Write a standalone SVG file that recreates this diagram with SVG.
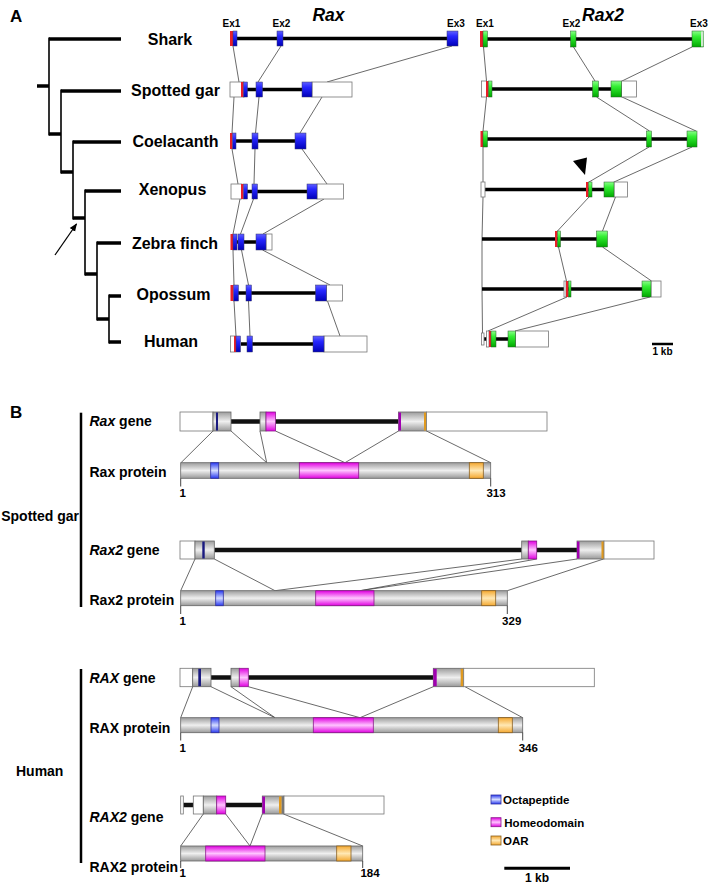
<svg xmlns="http://www.w3.org/2000/svg" width="709" height="884" viewBox="0 0 709 884">
<defs>
<linearGradient id="gB" x1="0" y1="0" x2="0" y2="1"><stop offset="0" stop-color="#6060ff"/><stop offset="0.35" stop-color="#2626ff"/><stop offset="1" stop-color="#0000b8"/></linearGradient>
<linearGradient id="gG" x1="0" y1="0" x2="0" y2="1"><stop offset="0" stop-color="#8aff8a"/><stop offset="0.35" stop-color="#33ee33"/><stop offset="1" stop-color="#00a800"/></linearGradient>
<linearGradient id="gGr" x1="0" y1="0" x2="0" y2="1"><stop offset="0" stop-color="#9c9c9c"/><stop offset="0.5" stop-color="#efefef"/><stop offset="1" stop-color="#999"/></linearGradient>
<linearGradient id="gM" x1="0" y1="0" x2="0" y2="1"><stop offset="0" stop-color="#e000e0"/><stop offset="0.5" stop-color="#ffc4ff"/><stop offset="1" stop-color="#e000e0"/></linearGradient>
<linearGradient id="gO" x1="0" y1="0" x2="0" y2="1"><stop offset="0" stop-color="#2a3af0"/><stop offset="0.5" stop-color="#d4dcff"/><stop offset="1" stop-color="#2a3af0"/></linearGradient>
<linearGradient id="gA" x1="0" y1="0" x2="0" y2="1"><stop offset="0" stop-color="#f4a830"/><stop offset="0.5" stop-color="#ffe8b4"/><stop offset="1" stop-color="#f4a830"/></linearGradient>
<marker id="arr" viewBox="0 0 10 10" refX="9" refY="5" markerWidth="8" markerHeight="8" orient="auto" markerUnits="userSpaceOnUse"><path d="M0,1 L10,5 L0,9 z" fill="#000"/></marker>
</defs>
<style>
text{font-family:"Liberation Sans",Arial,sans-serif;font-weight:bold;fill:#000}
.sp{font-size:16px;text-anchor:middle}
.ex{font-size:10px;text-anchor:middle}
.ttl{font-size:17.5px;font-style:italic;text-anchor:middle}
.pl{font-size:17px}
.bl{font-size:14px}
.num{font-size:11.5px}
.lg{font-size:11.5px}
.th{stroke:#000;stroke-width:3.5;fill:none}
.tv{stroke:#000;stroke-width:1.6;fill:none}
.in{stroke:#000;stroke-width:3.5}
.inb{stroke:#111;stroke-width:4.5}
.c{stroke:#444;stroke-width:0.8;fill:none}
.w{fill:#fff;stroke:#777;stroke-width:0.8}
.b{fill:url(#gB);stroke:#3a3a6a;stroke-width:0.5}
.g{fill:url(#gG);stroke:#2a5a2a;stroke-width:0.5}
.r{fill:#e8202a}
.gr{fill:url(#gGr);stroke:#666;stroke-width:0.8}
.m{fill:url(#gM);stroke:#8a1a8a;stroke-width:0.8}
.o{fill:url(#gO);stroke:#3030a0;stroke-width:0.8}
.a{fill:url(#gA);stroke:#8a6020;stroke-width:0.8}
.nv{fill:#1a1a80}
.mt{fill:#a000b0}
.ot{fill:#e09a20}
.tk{stroke:#333;stroke-width:0.9}
</style>

<text class="pl" x="10" y="22">A</text>
<text class="pl" x="10" y="418">B</text>

<g id="tree">
<line class="th" x1="37" y1="86" x2="49" y2="86"/>
<line class="tv" x1="49" y1="37.5" x2="49" y2="135.5"/>
<line class="th" x1="49" y1="39" x2="121" y2="39"/>
<line class="th" x1="49" y1="134" x2="61" y2="134"/>
<line class="tv" x1="61" y1="89.5" x2="61" y2="173.5"/>
<line class="th" x1="61" y1="91" x2="121" y2="91"/>
<line class="th" x1="61" y1="172" x2="73" y2="172"/>
<line class="tv" x1="73" y1="140.5" x2="73" y2="219.5"/>
<line class="th" x1="73" y1="142" x2="121" y2="142"/>
<line class="th" x1="73" y1="218" x2="85" y2="218"/>
<line class="tv" x1="85" y1="189.5" x2="85" y2="275.5"/>
<line class="th" x1="85" y1="191" x2="121" y2="191"/>
<line class="th" x1="85" y1="274" x2="97" y2="274"/>
<line class="tv" x1="97" y1="241.5" x2="97" y2="320.5"/>
<line class="th" x1="97" y1="243" x2="121" y2="243"/>
<line class="th" x1="97" y1="319" x2="109" y2="319"/>
<line class="tv" x1="109" y1="294.5" x2="109" y2="343.5"/>
<line class="th" x1="109" y1="296" x2="121" y2="296"/>
<line class="th" x1="109" y1="342" x2="121" y2="342"/>
<line x1="55" y1="255" x2="76.5" y2="224" stroke="#000" stroke-width="1.3" marker-end="url(#arr)"/>
</g>

<g id="species-labels">
<text class="sp" x="170" y="45">Shark</text>
<text class="sp" x="175.5" y="96">Spotted gar</text>
<text class="sp" x="175.5" y="147">Coelacanth</text>
<text class="sp" x="172.5" y="195">Xenopus</text>
<text class="sp" x="175" y="249">Zebra finch</text>
<text class="sp" x="173.5" y="300">Opossum</text>
<text class="sp" x="171" y="347">Human</text>
</g>

<g id="titles">
<text class="ttl" x="328.5" y="21">Rax</text>
<text class="ttl" x="603" y="21">Rax2</text>
<text class="ex" x="231.5" y="27">Ex1</text>
<text class="ex" x="281.5" y="27">Ex2</text>
<text class="ex" x="456" y="27">Ex3</text>
<text class="ex" x="485" y="27">Ex1</text>
<text class="ex" x="571.5" y="27">Ex2</text>
<text class="ex" x="699" y="27">Ex3</text>
</g>

<g id="connectors">
<line class="c" x1="233" y1="46" x2="239" y2="82"/>
<line class="c" x1="281" y1="46" x2="258" y2="82"/>
<line class="c" x1="452" y1="46" x2="327" y2="82"/>
<line class="c" x1="234" y1="97" x2="232" y2="133"/>
<line class="c" x1="259" y1="97" x2="255.5" y2="133"/>
<line class="c" x1="322" y1="97" x2="300" y2="133"/>
<line class="c" x1="232" y1="149" x2="238" y2="184"/>
<line class="c" x1="255" y1="149" x2="254" y2="184"/>
<line class="c" x1="302" y1="149" x2="327" y2="184"/>
<line class="c" x1="240" y1="199" x2="233" y2="234"/>
<line class="c" x1="253.5" y1="199" x2="240.5" y2="234"/>
<line class="c" x1="324" y1="199" x2="263" y2="234"/>
<line class="c" x1="233" y1="250" x2="234" y2="285"/>
<line class="c" x1="241.5" y1="250" x2="248.5" y2="285"/>
<line class="c" x1="262.5" y1="250" x2="330" y2="285"/>
<line class="c" x1="234" y1="301" x2="236" y2="336"/>
<line class="c" x1="248.5" y1="301" x2="250" y2="336"/>
<line class="c" x1="327.5" y1="301" x2="340" y2="336"/>
<line class="c" x1="483.5" y1="47" x2="486.5" y2="81"/>
<line class="c" x1="573.5" y1="47" x2="595" y2="81"/>
<line class="c" x1="692" y1="47" x2="622" y2="81"/>
<line class="c" x1="486.5" y1="97" x2="483" y2="131"/>
<line class="c" x1="596.5" y1="97" x2="649.5" y2="131"/>
<line class="c" x1="622" y1="97" x2="696" y2="131"/>
<line class="c" x1="483" y1="147" x2="483" y2="182"/>
<line class="c" x1="649" y1="147" x2="589" y2="182"/>
<line class="c" x1="692" y1="147" x2="614" y2="182"/>
<line class="c" x1="483" y1="197" x2="482" y2="239"/>
<line class="c" x1="589" y1="197" x2="557.5" y2="231"/>
<line class="c" x1="615.5" y1="197" x2="602.5" y2="231"/>
<line class="c" x1="482" y1="239" x2="482" y2="289"/>
<line class="c" x1="558.5" y1="247" x2="566.5" y2="281"/>
<line class="c" x1="602.5" y1="247" x2="651.5" y2="281"/>
<line class="c" x1="482" y1="289" x2="482.5" y2="333"/>
<line class="c" x1="567" y1="297" x2="488" y2="331"/>
<line class="c" x1="650" y1="297" x2="515" y2="331"/>
<line class="c" x1="213" y1="431" x2="181" y2="462.7"/>
<line class="c" x1="231" y1="431" x2="266.7" y2="462.7"/>
<line class="c" x1="260" y1="431" x2="266.7" y2="462.7"/>
<line class="c" x1="275.5" y1="431" x2="345" y2="462.7"/>
<line class="c" x1="398.5" y1="431" x2="345" y2="462.7"/>
<line class="c" x1="426.5" y1="431" x2="490.7" y2="462.7"/>
<line class="c" x1="195" y1="559" x2="180.7" y2="590.7"/>
<line class="c" x1="214.3" y1="559" x2="275" y2="590.7"/>
<line class="c" x1="521.7" y1="559" x2="275" y2="590.7"/>
<line class="c" x1="536.7" y1="559" x2="360" y2="590.7"/>
<line class="c" x1="577" y1="559" x2="360" y2="590.7"/>
<line class="c" x1="603.5" y1="559" x2="507.3" y2="590.7"/>
<line class="c" x1="192.7" y1="686.7" x2="180.7" y2="717.7"/>
<line class="c" x1="211" y1="686.7" x2="275" y2="717.7"/>
<line class="c" x1="231" y1="686.7" x2="275" y2="717.7"/>
<line class="c" x1="248.3" y1="686.7" x2="360" y2="717.7"/>
<line class="c" x1="433.3" y1="686.7" x2="360" y2="717.7"/>
<line class="c" x1="465" y1="686.7" x2="522.7" y2="717.7"/>
<line class="c" x1="203.3" y1="814" x2="180.7" y2="846"/>
<line class="c" x1="225.7" y1="814" x2="250" y2="846"/>
<line class="c" x1="262.3" y1="814" x2="250" y2="846"/>
<line class="c" x1="283.5" y1="814" x2="362.7" y2="846"/>
</g>

<g id="rax-shark">
<line class="in" x1="236" y1="38.5" x2="447" y2="38.5"/>
<rect class="r" x="230" y="31" width="3" height="15"/><rect class="b" x="233" y="31" width="4" height="15"/>
<rect class="b" x="277" y="31" width="6" height="15"/>
<rect class="b" x="447" y="31" width="11" height="15"/>
</g>
<g id="rax-gar">
<line class="in" x1="247" y1="89.5" x2="302" y2="89.5"/>
<rect class="w" x="230" y="82" width="14" height="15"/>
<rect class="r" x="241" y="82" width="2.5" height="15"/><rect class="b" x="243.5" y="82" width="4" height="15"/>
<rect class="b" x="256" y="82" width="6.5" height="15"/>
<rect class="w" x="312" y="82" width="40" height="15"/>
<rect class="b" x="302" y="82" width="10" height="15"/>
</g>
<g id="rax-coelacanth">
<line class="in" x1="236" y1="141" x2="295" y2="141"/>
<rect class="r" x="230" y="133" width="2.5" height="16"/><rect class="b" x="232.5" y="133" width="3.5" height="16"/>
<rect class="b" x="252" y="133" width="6" height="16"/>
<rect class="b" x="295" y="133" width="11" height="16"/>
</g>
<g id="rax-xenopus">
<line class="in" x1="247" y1="191.5" x2="307" y2="191.5"/>
<rect class="w" x="231" y="184" width="11" height="15"/>
<rect class="r" x="241" y="184" width="2.5" height="15"/><rect class="b" x="243.5" y="184" width="4" height="15"/>
<rect class="b" x="252" y="184" width="5.5" height="15"/>
<rect class="w" x="317" y="184" width="26.5" height="15"/>
<rect class="b" x="307" y="184" width="10" height="15"/>
</g>
<g id="rax-zebrafinch">
<line class="in" x1="237" y1="242" x2="256" y2="242"/>
<rect class="r" x="230.5" y="234" width="2.5" height="16"/><rect class="b" x="233" y="234" width="4" height="16"/>
<rect class="b" x="238" y="234" width="6" height="16"/>
<rect class="w" x="266" y="234" width="6" height="16"/>
<rect class="b" x="256" y="234" width="10" height="16"/>
</g>
<g id="rax-opossum">
<line class="in" x1="238" y1="293" x2="316" y2="293"/>
<rect class="r" x="230.5" y="285" width="3" height="16"/><rect class="b" x="233.5" y="285" width="5" height="16"/>
<rect class="b" x="246" y="285" width="5.5" height="16"/>
<rect class="w" x="326.5" y="285" width="16" height="16"/>
<rect class="b" x="315.5" y="285" width="11" height="16"/>
</g>
<g id="rax-human">
<line class="in" x1="241" y1="344" x2="313" y2="344"/>
<rect class="w" x="230.5" y="336" width="5" height="16"/>
<rect class="r" x="234" y="336" width="2" height="16"/><rect class="b" x="236" y="336" width="4.5" height="16"/>
<rect class="b" x="247" y="336" width="5.5" height="16"/>
<rect class="w" x="324" y="336" width="43" height="16"/>
<rect class="b" x="313" y="336" width="11" height="16"/>
</g>

<g id="rax2-shark">
<line class="in" x1="487" y1="39" x2="692" y2="39"/>
<rect class="r" x="480" y="31" width="3" height="16"/><rect class="g" x="483" y="31" width="4.5" height="16"/>
<rect class="g" x="570.5" y="31" width="5.5" height="16"/>
<rect class="g" x="692" y="31" width="11.5" height="16"/>
<rect x="701" y="31.5" width="2.3" height="15" fill="#cfe9cf"/>
</g>
<g id="rax2-gar">
<line class="in" x1="492" y1="89" x2="611" y2="89"/>
<rect class="w" x="481.5" y="81" width="5" height="16"/>
<rect class="r" x="486" y="81" width="2.5" height="16"/><rect class="g" x="488.5" y="81" width="3.5" height="16"/>
<rect class="g" x="592.5" y="81" width="6" height="16"/>
<rect class="w" x="621.5" y="81" width="15" height="16"/>
<rect class="g" x="611" y="81" width="10.5" height="16"/>
</g>
<g id="rax2-coelacanth">
<line class="in" x1="487" y1="139" x2="687" y2="139"/>
<rect class="r" x="480.5" y="131" width="2.5" height="16"/><rect class="g" x="483" y="131" width="4.5" height="16"/>
<rect class="g" x="646.5" y="131" width="5" height="16"/>
<rect class="g" x="687" y="131" width="10" height="16"/>
</g>
<g id="rax2-xenopus">
<line class="in" x1="485" y1="189.5" x2="604" y2="189.5"/>
<rect class="w" x="481" y="182" width="4" height="15"/>
<rect class="r" x="586" y="182" width="2.5" height="15"/><rect class="g" x="588.5" y="182" width="3.5" height="15"/>
<rect class="w" x="614" y="182" width="13.5" height="15"/>
<rect class="g" x="604" y="182" width="10" height="15"/>
<polygon points="573,161 587,157.5 585,175" fill="#000"/>
</g>
<g id="rax2-zebrafinch">
<line class="in" x1="482" y1="239" x2="597" y2="239"/>
<rect class="r" x="555" y="231" width="2.5" height="16"/><rect class="g" x="557.5" y="231" width="3" height="16"/>
<rect class="g" x="596.5" y="231" width="11" height="16"/>
</g>
<g id="rax2-opossum">
<line class="in" x1="482" y1="289" x2="642" y2="289"/>
<rect class="w" x="564" y="281" width="2" height="16"/>
<rect class="r" x="566" y="281" width="2.5" height="16"/><rect class="g" x="568.5" y="281" width="2.5" height="16"/>
<rect class="w" x="651" y="281" width="10" height="16"/>
<rect class="g" x="642" y="281" width="9" height="16"/>
</g>
<g id="rax2-human">
<line class="in" x1="484" y1="339" x2="508" y2="339"/>
<rect class="w" x="481.5" y="333" width="2.5" height="12"/>
<rect class="w" x="486.5" y="331" width="2.5" height="16"/>
<rect class="r" x="489" y="331" width="2" height="16"/><rect class="g" x="491" y="331" width="5" height="16"/>
<rect class="w" x="515.5" y="331" width="33" height="16"/>
<rect class="g" x="508" y="331" width="7.5" height="16"/>
</g>

<g id="scale-a">
<line x1="652" y1="344" x2="673" y2="344" stroke="#000" stroke-width="2.5"/>
<text x="662.5" y="355" font-size="10px" text-anchor="middle">1 kb</text>
</g>

<g id="group-labels">
<line x1="81" y1="412.7" x2="81" y2="607" stroke="#000" stroke-width="2.5"/>
<line x1="81" y1="669" x2="81" y2="863" stroke="#000" stroke-width="2.5"/>
<text class="bl" x="79" y="521" text-anchor="end">Spotted gar</text>
<text class="bl" x="39.7" y="776" text-anchor="middle">Human</text>
<text class="bl" x="89.5" y="425.5"><tspan font-style="italic">Rax</tspan> gene</text>
<text class="bl" x="89.5" y="476.5">Rax protein</text>
<text class="bl" x="89.5" y="555"><tspan font-style="italic">Rax2</tspan> gene</text>
<text class="bl" x="89.5" y="605">Rax2 protein</text>
<text class="bl" x="89.5" y="682.5"><tspan font-style="italic">RAX</tspan> gene</text>
<text class="bl" x="89.5" y="733">RAX protein</text>
<text class="bl" x="89.5" y="821.5"><tspan font-style="italic">RAX2</tspan> gene</text>
<text class="bl" x="89.5" y="871.5">RAX2 protein</text>
</g>

<g id="gar-rax-gene">
<line class="inb" x1="231" y1="421.5" x2="260" y2="421.5"/>
<line class="inb" x1="275.5" y1="421.5" x2="398.5" y2="421.5"/>
<rect class="w" x="180" y="412" width="33" height="19"/>
<rect class="gr" x="213" y="412" width="18" height="19"/>
<rect class="nv" x="216" y="412.5" width="2" height="18"/>
<rect class="gr" x="260" y="412" width="6" height="19"/>
<rect class="m" x="266" y="412" width="9.5" height="19"/>
<rect class="gr" x="398.5" y="412" width="28" height="19"/>
<rect class="mt" x="398.5" y="412.5" width="2.5" height="18"/>
<rect class="ot" x="424" y="412.5" width="2.5" height="18"/>
<rect class="w" x="426.5" y="412" width="120.5" height="19"/>
</g>
<g id="gar-rax-protein">
<rect class="gr" x="180.7" y="462.7" width="310" height="15.6"/>
<rect class="o" x="210.7" y="462.7" width="8" height="15.6"/>
<rect class="m" x="299.3" y="462.7" width="59.4" height="15.6"/>
<rect class="a" x="469.3" y="462.7" width="14" height="15.6"/>
<line class="tk" x1="180.7" y1="478.3" x2="180.7" y2="486.5"/>
<line class="tk" x1="490.7" y1="478.3" x2="490.7" y2="486.5"/>
<text class="num" x="179.5" y="497">1</text>
<text class="num" x="496" y="497" text-anchor="middle">313</text>
</g>

<g id="gar-rax2-gene">
<line class="inb" x1="214.3" y1="550" x2="521.7" y2="550"/>
<line class="inb" x1="536.7" y1="550" x2="577" y2="550"/>
<rect class="w" x="180" y="541" width="15" height="18"/>
<rect class="gr" x="195" y="541" width="19.3" height="18"/>
<rect class="nv" x="202.3" y="541.5" width="2.4" height="17"/>
<rect class="gr" x="521.7" y="541" width="6.6" height="18"/>
<rect class="m" x="528.3" y="541" width="8.4" height="18"/>
<rect class="gr" x="577" y="541" width="27" height="18"/>
<rect class="mt" x="577" y="541.5" width="2.5" height="17"/>
<rect class="ot" x="601.5" y="541.5" width="2.5" height="17"/>
<rect class="w" x="604" y="541" width="50" height="18"/>
</g>
<g id="gar-rax2-protein">
<rect class="gr" x="180.7" y="590.7" width="326.6" height="15"/>
<rect class="o" x="215.7" y="590.7" width="7.6" height="15"/>
<rect class="m" x="315.7" y="590.7" width="58.3" height="15"/>
<rect class="a" x="481.7" y="590.7" width="14" height="15"/>
<line class="tk" x1="180.7" y1="605.7" x2="180.7" y2="614"/>
<line class="tk" x1="507.3" y1="605.7" x2="507.3" y2="614"/>
<text class="num" x="179.5" y="624.5">1</text>
<text class="num" x="511.7" y="624.5" text-anchor="middle">329</text>
</g>

<g id="human-rax-gene">
<line class="inb" x1="211" y1="677.5" x2="231" y2="677.5"/>
<line class="inb" x1="248.3" y1="677.5" x2="433.3" y2="677.5"/>
<rect class="w" x="180" y="668.3" width="12.7" height="18.4"/>
<rect class="gr" x="192.7" y="668.3" width="18.3" height="18.4"/>
<rect class="nv" x="198.3" y="668.8" width="2.7" height="17.4"/>
<rect class="gr" x="231" y="668.3" width="8.3" height="18.4"/>
<rect class="m" x="239.3" y="668.3" width="9" height="18.4"/>
<rect class="gr" x="433.3" y="668.3" width="30.4" height="18.4"/>
<rect class="mt" x="433.3" y="668.8" width="3.4" height="17.4"/>
<rect class="ot" x="460.7" y="668.8" width="3" height="17.4"/>
<rect class="w" x="463.7" y="668.3" width="130.6" height="18.4"/>
</g>
<g id="human-rax-protein">
<rect class="gr" x="180.7" y="717.7" width="342" height="15"/>
<rect class="o" x="211" y="717.7" width="8" height="15"/>
<rect class="m" x="313.3" y="717.7" width="60" height="15"/>
<rect class="a" x="498.3" y="717.7" width="14" height="15"/>
<line class="tk" x1="180.7" y1="732.7" x2="180.7" y2="740.5"/>
<line class="tk" x1="522.7" y1="732.7" x2="522.7" y2="740.5"/>
<text class="num" x="179.5" y="752">1</text>
<text class="num" x="528.3" y="752" text-anchor="middle">346</text>
</g>

<g id="human-rax2-gene">
<line class="inb" x1="183.3" y1="805" x2="193.3" y2="805"/>
<line class="inb" x1="225.7" y1="805" x2="262.3" y2="805"/>
<rect class="w" x="180.7" y="796" width="2.6" height="18"/>
<rect class="w" x="193.3" y="796" width="10" height="18"/>
<rect class="gr" x="203.3" y="796" width="13.4" height="18"/>
<rect class="m" x="216.7" y="796" width="9" height="18"/>
<rect class="gr" x="262.3" y="796" width="21.7" height="18"/>
<rect class="mt" x="262.3" y="796.5" width="2.7" height="17"/>
<rect class="ot" x="279" y="796.5" width="2.7" height="17"/>
<rect x="281.7" y="796.5" width="2.3" height="17" fill="#777"/>
<rect class="w" x="284" y="796" width="100" height="18"/>
</g>
<g id="human-rax2-protein">
<rect class="gr" x="180.7" y="846" width="182" height="15"/>
<rect class="m" x="205.7" y="846" width="59.3" height="15"/>
<rect class="a" x="336.7" y="846" width="14.3" height="15"/>
<line class="tk" x1="180.7" y1="861" x2="180.7" y2="868"/>
<line class="tk" x1="362.7" y1="861" x2="362.7" y2="868"/>
<text class="num" x="179.5" y="877">1</text>
<text class="num" x="370" y="877" text-anchor="middle">184</text>
</g>

<g id="legend">
<rect class="o" x="491" y="795" width="10" height="9"/>
<text class="lg" x="503" y="803.5">Octapeptide</text>
<rect class="m" x="491" y="817.7" width="10" height="9"/>
<text class="lg" x="504.3" y="826.5">Homeodomain</text>
<rect class="a" x="491" y="836" width="10" height="9"/>
<text class="lg" x="503" y="845">OAR</text>
<line x1="504.3" y1="868.3" x2="570" y2="868.3" stroke="#000" stroke-width="3"/>
<text x="537" y="881.5" font-size="12px" text-anchor="middle">1 kb</text>
</g>
</svg>
